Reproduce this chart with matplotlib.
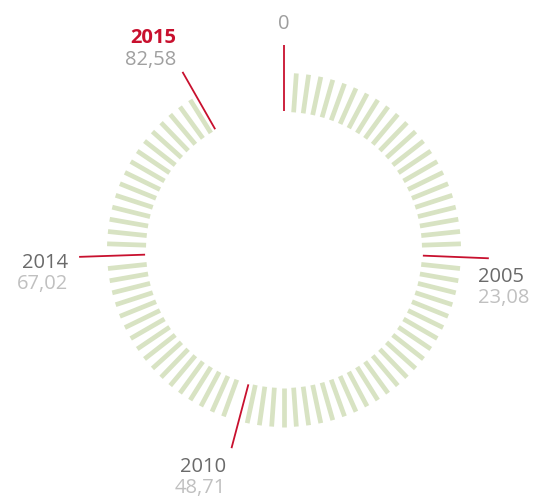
import numpy as np
import matplotlib
matplotlib.use("Agg")
import matplotlib.pyplot as plt

# ---- data ----
years = ["0", "2005", "2010", "2014", "2015"]
values = [0.0, 23.08, 48.71, 67.02, 82.58]
value_labels = ["", "23,08", "48,71", "67,02", "82,58"]
scale_max = 90          # full circle = 90 units, one bar per unit
highlight = "2015"

# ---- style ----
plt.rcParams['font.family'] = ['Open Sans', 'DejaVu Sans']
BAR_COLOR = "#d8e3c3"
RED = "#c8102e"
YEAR_COLOR = "#6a6a6a"
VALUE_COLOR = "#c0c0c0"
R_IN, R_OUT = 138, 177
L_IN, L_OUT = 139, 205
FS = 14.5
# label offsets (px) relative to outer line end: (dx, dy_year, ha)
label_style = {
    "0":    (0, 21, "center"),
    "2005": (-11, -18.5, "left"),
    "2010": (-5, -18.5, "right"),
    "2014": (-11, -6, "right"),
    "2015": (-6, 33.5, "right"),
}
LINE_GAP = 21.5

fig = plt.figure(figsize=(5.33, 5.01), dpi=100)
ax = fig.add_axes([0, 0, 1, 1])
ax.set_xlim(-284, 533 - 284)
ax.set_ylim(-(501 - 250), 250)
ax.axis('off')

deg_per_unit = 360.0 / scale_max
marker_angles = [v * deg_per_unit for v in values]

# bars
n_bars = int(np.floor(max(values)))
for i in range(1, n_bars + 1):
    a = i * deg_per_unit
    if any(abs(a - m) < 2.0 for m in marker_angles):
        continue
    t = np.deg2rad(a)
    ax.plot([R_IN * np.sin(t), R_OUT * np.sin(t)],
            [R_IN * np.cos(t), R_OUT * np.cos(t)],
            color=BAR_COLOR, lw=3.4, solid_capstyle='butt', zorder=1)

# marker lines and labels
for y, v, vl, a in zip(years, values, value_labels, marker_angles):
    t = np.deg2rad(a)
    x0, y0 = L_IN * np.sin(t), L_IN * np.cos(t)
    x1, y1 = L_OUT * np.sin(t), L_OUT * np.cos(t)
    ax.plot([x0, x1], [y0, y1], color=RED, lw=1.3, solid_capstyle='butt', zorder=2)
    dx, dy, ha = label_style[y]
    is_hl = (y == highlight)
    if y == "0":
        ax.text(x1 + dx, y1 + dy, y, ha=ha, va='center', fontsize=FS,
                color="#9e9e9e")
        continue
    ax.text(x1 + dx, y1 + dy, y, ha=ha, va='center', fontsize=FS,
            color=RED if is_hl else YEAR_COLOR,
            fontweight='bold' if is_hl else 'normal')
    ax.text(x1 + dx, y1 + dy - LINE_GAP, vl, ha=ha, va='center', fontsize=FS,
            color="#a0a0a0" if is_hl else VALUE_COLOR)

fig.savefig("out.png", dpi=100)
